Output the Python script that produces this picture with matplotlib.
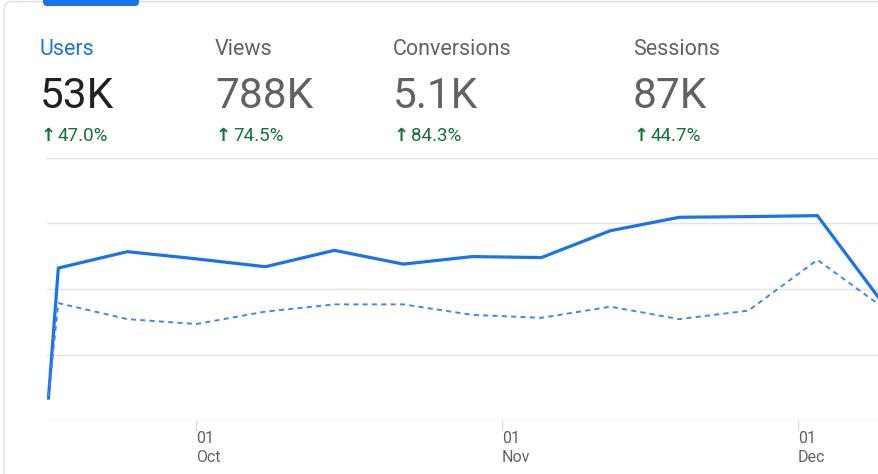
import datetime as dt
import matplotlib
matplotlib.use("Agg")
import matplotlib.pyplot as plt
import matplotlib.dates as mdates
from matplotlib.patches import FancyBboxPatch
from matplotlib.transforms import IdentityTransform

plt.rcParams['font.family'] = ['Roboto', 'DejaVu Sans']

# weekly data (first and last week partial)
dates = [dt.date(2023, 9, 16), dt.date(2023, 9, 17), dt.date(2023, 9, 24),
         dt.date(2023, 10, 1), dt.date(2023, 10, 8), dt.date(2023, 10, 15),
         dt.date(2023, 10, 22), dt.date(2023, 10, 29), dt.date(2023, 11, 5),
         dt.date(2023, 11, 12), dt.date(2023, 11, 19), dt.date(2023, 11, 26),
         dt.date(2023, 12, 3), dt.date(2023, 12, 10)]
users = [670, 4640, 5140, 4920, 4680, 5180, 4760, 4990, 4960,
         5780, 6190, 6210, 6240, 3420]
users_prev = [730, 3570, 3080, 2930, 3310, 3530, 3530, 3210, 3120,
              3460, 3080, 3340, 4890, 3360]

metric_names = ["Users", "Views", "Conversions", "Sessions"]
metric_values = ["53K", "788K", "5.1K", "87K"]
metric_changes = ["47.0%", "74.5%", "84.3%", "44.7%"]
metric_x = [40, 215, 393, 633]  # pixel column positions

month_ticks = [dt.date(2023, 10, 1), dt.date(2023, 11, 1), dt.date(2023, 12, 1)]
month_labels = ["01\nOct", "01\nNov", "01\nDec"]

W, H = 879, 474
fig = plt.figure(figsize=(W / 100, H / 100), dpi=100)

# card outline and selected tab
card = FancyBboxPatch((4, -30), 1000, H - 1.5 + 30, boxstyle="round,pad=0,rounding_size=8",
                      transform=IdentityTransform(), facecolor="white",
                      edgecolor="#dadce0", lw=1.0, zorder=-2)
fig.patches.append(card)
tab = FancyBboxPatch((43, H - 6), 96, 12, boxstyle="round,pad=0,rounding_size=4",
                     transform=IdentityTransform(), facecolor="#1a73e8",
                     edgecolor="none", zorder=-1)
fig.patches.append(tab)

# header metrics
for i, (name, val, chg) in enumerate(zip(metric_names, metric_values, metric_changes)):
    x = metric_x[i] / W
    name_col = "#1a73e8" if i == 0 else "#5f6368"
    val_col = "#202124" if i == 0 else "#5f6368"
    fig.text(x, 1 - 55 / H, name, fontsize=15.5, color=name_col, va="baseline")
    fig.text(x, 1 - 108 / H, val, fontsize=30.5, color=val_col, va="baseline")
    fig.text((metric_x[i] + 1) / W, 1 - 141 / H, "\u2191", fontsize=13, color="#137333",
             va="baseline", fontweight="bold", family=["DejaVu Sans"])
    fig.text((metric_x[i] + 18) / W, 1 - 141 / H, chg, fontsize=13.5, color="#137333",
             va="baseline")

# chart
ax = fig.add_axes([47 / W, (H - 420) / H, 832 / W, 262 / H])
ax.set_zorder(2)
ax.set_facecolor("none")
ax.plot(dates, users, color="#1a73e8", lw=2.3, solid_joinstyle="miter", zorder=3)
ax.plot(dates, users_prev, color="#4285f4", lw=1.4, ls=(0, (2.6, 2.2)), zorder=3)

left = mdates.date2num(dt.date(2023, 9, 16)) - 0.15
right = mdates.date2num(dt.date(2023, 12, 1)) + 8.25
ax.set_xlim(left, right)
ax.set_ylim(0, 8000)
ax.set_yticks([0, 2000, 4000, 6000, 8000])
ax.yaxis.grid(True, color="#e3e3e3", lw=1.0)
ax.tick_params(axis="y", length=0, labelleft=False)
for s in ax.spines.values():
    s.set_visible(False)

ax.set_xticks(month_ticks)
ax.set_xticklabels(month_labels, ha="left", linespacing=1.3)
ax.tick_params(axis="x", length=8, width=1, color="#dadce0", pad=0,
               labelsize=11.5, labelcolor="#5f6368")

fig.savefig("out.png", dpi=100)
